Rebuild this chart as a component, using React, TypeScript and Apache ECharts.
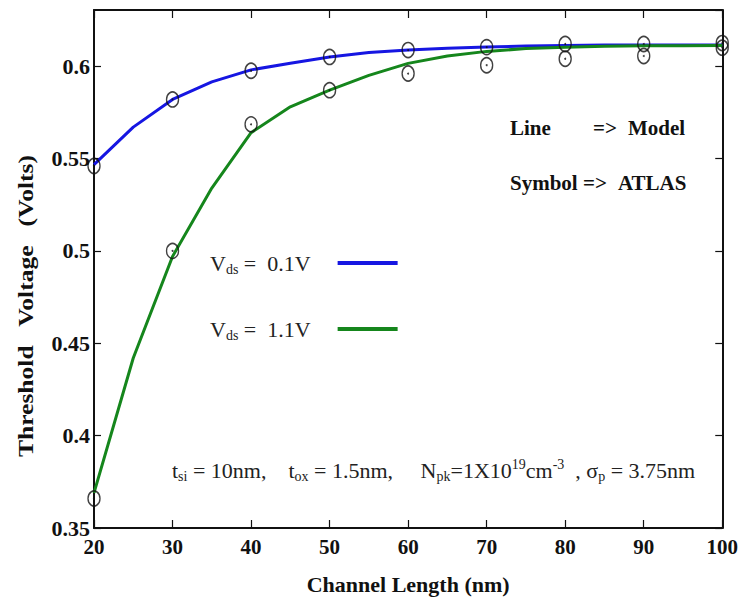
import React, { useEffect, useRef } from "react";
import * as echarts from "echarts";

const lineX = [20, 25, 30, 35, 40, 45, 50, 55, 60, 65, 70, 75, 80, 85, 90, 95, 100];
const modelVds01 = [0.5467, 0.567, 0.582, 0.5915, 0.598, 0.6016, 0.605, 0.6074, 0.6088, 0.6097, 0.6104, 0.6109, 0.6112, 0.6114, 0.6115, 0.6115, 0.6115];
const modelVds11 = [0.369, 0.442, 0.497, 0.534, 0.564, 0.578, 0.587, 0.595, 0.6015, 0.6055, 0.608, 0.6095, 0.6103, 0.6108, 0.611, 0.6111, 0.6112];

const atlasX = [20, 30, 40, 50, 60, 70, 80, 90, 100];
const atlasVds01 = [0.546, 0.582, 0.5975, 0.605, 0.6087, 0.6103, 0.612, 0.612, 0.6125];
const atlasVds11 = [0.366, 0.5, 0.5685, 0.587, 0.596, 0.6005, 0.604, 0.6055, 0.61];

const xTicks = [20, 30, 40, 50, 60, 70, 80, 90, 100];
const yTicks = [0.35, 0.4, 0.45, 0.5, 0.55, 0.6];

const legendNames = ["Vds = 0.1V", "Vds = 1.1V"];

const FONT = "'Liberation Serif', 'Times New Roman', serif";
const BLUE = "#1616e2";
const GREEN = "#15861c";

export default function App() {
  const ref = useRef<HTMLDivElement>(null);
  useEffect(() => {
    if (!ref.current) return;
    const chart = echarts.init(ref.current, null, { renderer: "svg" });
    const pairs = (xs: number[], ys: number[]) => xs.map((x, i) => [x, ys[i]]);
    const axisLineStyle = { color: "#111", width: 2 };
    const tickStyle = { color: "#111", width: 1.2 };
    const symbolSeries = (ys: number[]) => [
      {
        type: "scatter",
        data: pairs(atlasX, ys),
        symbol: "circle",
        symbolSize: [12, 15],
        itemStyle: { color: "rgba(0,0,0,0)", borderColor: "#111", borderWidth: 1.5 },
        z: 5,
      },
      {
        type: "scatter",
        data: pairs(atlasX, ys),
        symbol: "circle",
        symbolSize: 2,
        itemStyle: { color: "#111" },
        z: 6,
      },
    ];
    const boldText = (text: string, x: number, y: number) => ({
      type: "text",
      x,
      y,
      style: { text, font: `bold 21px ${FONT}`, fill: "#111", verticalAlign: "middle", align: "left" },
    });
    chart.setOption({
      animation: false,
      backgroundColor: "#fff",
      grid: { left: 86, right: 17, top: 2, bottom: 72 },
      legend: {
        data: legendNames,
        orient: "vertical",
        left: 197,
        top: 239,
        align: "right",
        itemGap: 42,
        itemWidth: 60,
        itemHeight: 4,
        icon: "rect",
        formatter: (name: string) =>
          name === legendNames[0]
            ? "{m|V}{s|ds}{m| =  0.1V}{g|}"
            : "{m|V}{s|ds}{m| =  1.1V}{g|}",
        textStyle: {
          fontFamily: FONT,
          color: "#222",
          rich: {
            m: { fontFamily: FONT, fontSize: 22, color: "#222", lineHeight: 26 },
            s: { fontFamily: FONT, fontSize: 14, color: "#222", lineHeight: 13, verticalAlign: "bottom" },
            g: { width: 22 },
          },
        },
      },
      xAxis: [
        {
          type: "value",
          min: 20,
          max: 100,
          interval: 10,
          name: "Channel Length (nm)",
          nameLocation: "middle",
          nameGap: 45,
          nameTextStyle: { fontFamily: FONT, fontSize: 22, fontWeight: "bold", color: "#111" },
          axisLine: { show: true, lineStyle: axisLineStyle },
          axisTick: { show: true, inside: true, length: 8, lineStyle: tickStyle },
          axisLabel: {
            fontFamily: FONT,
            fontSize: 21,
            fontWeight: "bold",
            color: "#111",
            margin: 8,
            formatter: (v: number) => (xTicks.includes(v) ? String(v) : ""),
          },
          splitLine: { show: false },
        },
        {
          type: "value",
          position: "top",
          min: 20,
          max: 100,
          interval: 10,
          axisLine: { show: true, lineStyle: axisLineStyle },
          axisTick: { show: true, inside: true, length: 8, lineStyle: tickStyle },
          axisLabel: { show: false },
          splitLine: { show: false },
        },
      ],
      yAxis: [
        {
          type: "value",
          min: 0.35,
          max: 0.6304,
          interval: 0.05,
          axisLine: { show: true, lineStyle: axisLineStyle },
          axisTick: { show: true, inside: true, length: 7, lineStyle: tickStyle },
          axisLabel: {
            fontFamily: FONT,
            fontSize: 22,
            fontWeight: "bold",
            color: "#111",
            margin: 4,
            showMaxLabel: false,
            formatter: (v: number) => {
              const r = Math.round(v * 100) / 100;
              return yTicks.some((t) => Math.abs(t - v) < 1e-6) ? String(r) : "";
            },
          },
          splitLine: { show: false },
        },
        {
          type: "value",
          position: "right",
          min: 0.35,
          max: 0.6304,
          interval: 0.05,
          axisLine: { show: true, lineStyle: axisLineStyle },
          axisTick: { show: true, inside: true, length: 7, lineStyle: tickStyle },
          axisLabel: { show: false },
          splitLine: { show: false },
        },
      ],
      series: [
        {
          name: legendNames[0],
          type: "line",
          data: pairs(lineX, modelVds01),
          showSymbol: false,
          symbol: "none",
          lineStyle: { color: BLUE, width: 3 },
          itemStyle: { color: BLUE },
          z: 3,
        },
        {
          name: legendNames[1],
          type: "line",
          data: pairs(lineX, modelVds11),
          showSymbol: false,
          symbol: "none",
          lineStyle: { color: GREEN, width: 3 },
          itemStyle: { color: GREEN },
          z: 4,
        },
        ...symbolSeries(atlasVds01),
        ...symbolSeries(atlasVds11),
      ],
      graphic: [
        {
          type: "text",
          x: 18,
          y: 298,
          rotation: Math.PI / 2,
          scaleX: 1.16,
          style: {
            text: "Threshold   Voltage   (Volts)",
            font: `bold 22px ${FONT}`,
            fill: "#111",
            align: "center",
            verticalAlign: "middle",
          },
        },
        boldText("Line", 502, 120),
        boldText("=>", 585, 120),
        boldText("Model", 620, 120),
        boldText("Symbol", 502, 175),
        boldText("=>", 575, 175),
        boldText("ATLAS", 610, 175),
        {
          type: "text",
          x: 164,
          y: 462,
          style: {
            text:
              "{m|t}{s|si}{m| = 10nm,    t}{s|ox}{m| = 1.5nm,     N}{s|pk}{m|=1X10}{p|19}{m|cm}{p|-3}{m|  , σ}{s|p}{m| = 3.75nm}",
            verticalAlign: "middle",
            rich: {
              m: { fontFamily: FONT, fontSize: 22, fill: "#222", lineHeight: 26 },
              s: { fontFamily: FONT, fontSize: 14, fill: "#222", lineHeight: 12, verticalAlign: "bottom" },
              p: { fontFamily: FONT, fontSize: 14, fill: "#222", lineHeight: 12, verticalAlign: "top" },
            },
          },
        },
      ],
    });
    return () => chart.dispose();
  }, []);
  return <div ref={ref} style={{ width: 733, height: 592 }} />;
}
